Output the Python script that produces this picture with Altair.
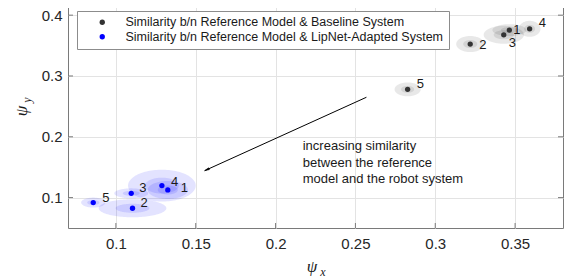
import altair as alt
import numpy as np
import pandas as pd

# ---------------- data ----------------
ids = ["1", "2", "3", "4", "5"]
series_names = [
    "Similarity b/n Reference Model & Baseline System",
    "Similarity b/n Reference Model & LipNet-Adapted System",
]
base_x = [0.3464, 0.3219, 0.3429, 0.3591, 0.2827]
base_y = [0.3754, 0.3525, 0.3677, 0.3775, 0.2780]
base_sx = [0.0053, 0.0044, 0.0063, 0.0034, 0.0041]
base_sy = [0.0049, 0.0066, 0.0074, 0.0066, 0.0057]

lip_x = [0.1325, 0.1104, 0.1096, 0.1288, 0.0858]
lip_y = [0.1126, 0.0825, 0.1070, 0.1197, 0.0918]
lip_sx = [0.0063, 0.0106, 0.0053, 0.0106, 0.0038]
lip_sy = [0.0074, 0.0074, 0.0041, 0.0131, 0.0041]

x_ticks = [0.1, 0.15, 0.2, 0.25, 0.3, 0.35]
y_ticks = [0.1, 0.2, 0.3, 0.4]
x_domain = [0.07, 0.38]
y_domain = [0.05, 0.42]

arrow_from = [0.2569, 0.2650]
arrow_to = [0.1556, 0.1443]
annotation_pos = [0.2170, 0.1850]
annotation_lines = [
    "increasing similarity",
    "between the reference",
    "model and the robot system",
]
sigma_levels = [1, 2]

W, H = 495, 225
TICK = 5
AXIS_GRAY = "#7a7a7a"

# ---------------- tables ----------------
pts = pd.DataFrame(
    {
        "series": [series_names[0]] * 5 + [series_names[1]] * 5,
        "sid": [0] * 5 + [1] * 5,
        "id": ids + ids,
        "x": base_x + lip_x,
        "y": base_y + lip_y,
        "sx": base_sx + lip_sx,
        "sy": base_sy + lip_sy,
    }
)

t = np.linspace(0, np.pi, 61)
rows = []
for _, r in pts.iterrows():
    for k in sigma_levels:
        for tt in t:
            rows.append(
                {
                    "sid": r["sid"],
                    "key": f"{r['sid']}-{r['id']}-{k}",
                    "ex": r["x"] + k * r["sx"] * np.cos(tt),
                    "ey": r["y"] + k * r["sy"] * np.sin(tt),
                    "ey2": r["y"] - k * r["sy"] * np.sin(tt),
                }
            )
ell = pd.DataFrame(rows)

xs = alt.Scale(domain=x_domain, nice=False, zero=False)
ys = alt.Scale(domain=y_domain, nice=False, zero=False)

xax = alt.Axis(values=x_ticks, format="~g", title=None, grid=True, ticks=False,
               domain=False, labelPadding=8)
yax = alt.Axis(values=y_ticks, format="~g", title=None, grid=True, ticks=False,
               domain=False, labelPadding=6)

# ellipses
ell_base = (
    alt.Chart(ell)
    .transform_filter("datum.sid == 0")
    .mark_area(color="#000000", opacity=0.09, interpolate="linear")
    .encode(
        x=alt.X("ex:Q", scale=xs, axis=xax),
        y=alt.Y("ey:Q", scale=ys, axis=yax),
        y2="ey2:Q",
        detail="key:N",
    )
)
ell_lip = (
    alt.Chart(ell)
    .transform_filter("datum.sid == 1")
    .mark_area(color="#0000ff", opacity=0.11, interpolate="linear")
    .encode(
        x=alt.X("ex:Q", scale=xs),
        y=alt.Y("ey:Q", scale=ys),
        y2="ey2:Q",
        detail="key:N",
    )
)

# inward box ticks
xt = pd.DataFrame({"v": x_ticks})
yt = pd.DataFrame({"v": y_ticks})
tick_layers = [
    alt.Chart(xt).mark_rule(color=AXIS_GRAY, strokeWidth=1).encode(
        x=alt.X("v:Q", scale=xs), y=alt.value(H - TICK), y2=alt.value(H)),
    alt.Chart(xt).mark_rule(color=AXIS_GRAY, strokeWidth=1).encode(
        x=alt.X("v:Q", scale=xs), y=alt.value(0), y2=alt.value(TICK)),
    alt.Chart(yt).mark_rule(color=AXIS_GRAY, strokeWidth=1).encode(
        y=alt.Y("v:Q", scale=ys), x=alt.value(0), x2=alt.value(TICK)),
    alt.Chart(yt).mark_rule(color=AXIS_GRAY, strokeWidth=1).encode(
        y=alt.Y("v:Q", scale=ys), x=alt.value(W - TICK), x2=alt.value(W)),
]

# arrow
arrow_df = pd.DataFrame(
    {"x": [arrow_from[0]], "y": [arrow_from[1]], "x2": [arrow_to[0]], "y2": [arrow_to[1]]}
)
arrow_line = alt.Chart(arrow_df).mark_rule(color="black", strokeWidth=1).encode(
    x=alt.X("x:Q", scale=xs), y=alt.Y("y:Q", scale=ys), x2="x2:Q", y2="y2:Q"
)
arrow_head = alt.Chart(arrow_df).mark_point(
    shape="M 0 0 L -0.4 1.9 L 0.4 1.9 Z", filled=True, fill="black", stroke="black",
    opacity=1, fillOpacity=1, size=25, angle=245.5, strokeWidth=0.5
).encode(x=alt.X("x2:Q", scale=xs), y=alt.Y("y2:Q", scale=ys))

# points
points = alt.Chart(pts).mark_circle(size=28, opacity=1).encode(
    x=alt.X("x:Q", scale=xs),
    y=alt.Y("y:Q", scale=ys),
    color=alt.Color(
        "series:N",
        scale=alt.Scale(domain=series_names, range=["#333333", "#0000ff"]),
        legend=alt.Legend(
            title=None, orient="none", legendX=9, legendY=8,
            fillColor="white", strokeColor="#8c8c8c", padding=5,
            labelFont="Liberation Sans", labelFontSize=12.5, labelColor="#1a1a1a",
            symbolType="circle", symbolSize=28, symbolOffset=14, labelOffset=17,
            rowPadding=1.5, labelLimit=500,
        ),
    ),
)

# labels with per-point offsets
offsets = {
    (0, "1"): (4, 0), (0, "2"): (9, 1), (0, "3"): (5, 8), (0, "4"): (9, -6), (0, "5"): (9, -5),
    (1, "1"): (13, -2), (1, "2"): (8, -5), (1, "3"): (8, -5), (1, "4"): (9, -4), (1, "5"): (9, -5),
}
groups = {}
for key, off in offsets.items():
    groups.setdefault(off, []).append(key)
label_layers = []
for (dx, dy), keys in groups.items():
    cond = " || ".join(f"(datum.sid == {s} && datum.id == '{i}')" for s, i in keys)
    label_layers.append(
        alt.Chart(pts).transform_filter(cond).mark_text(
            align="left", baseline="middle", dx=dx, dy=dy, fontSize=13,
            font="Liberation Sans", color="#1a1a1a"
        ).encode(x=alt.X("x:Q", scale=xs), y=alt.Y("y:Q", scale=ys), text="id:N")
    )

# annotation
ann_df = pd.DataFrame({"x": [annotation_pos[0]], "y": [annotation_pos[1]], "t": [annotation_lines]})
annotation = alt.Chart(ann_df).mark_text(
    align="left", baseline="middle", fontSize=13, lineHeight=16.7,
    font="Liberation Sans", color="#1a1a1a"
).encode(x=alt.X("x:Q", scale=xs), y=alt.Y("y:Q", scale=ys), text="t")

# axis titles (psi with subscripts)
one = pd.DataFrame({"a": [0]})
def txt(s, x, y, size, angle=0):
    kw = dict(font="Liberation Serif", fontStyle="italic", fontSize=size,
              color="#1a1a1a", align="center", baseline="middle")
    if angle:
        kw["angle"] = angle
    return alt.Chart(one).mark_text(**kw).encode(
        x=alt.value(x), y=alt.value(y), text=alt.value(s)
    )

titles = [
    txt("ψ", 244, 264, 17),
    txt("x", 255, 269, 12),
    txt("ψ", -46, 108, 17, 270),
    txt("y", -41, 97, 12, 270),
]

chart = alt.layer(
    ell_base, ell_lip, *tick_layers, arrow_line, arrow_head, points, *label_layers,
    annotation, *titles
).properties(
    width=W, height=H, autosize="none",
    padding={"left": 60, "top": -5, "right": 2, "bottom": 50},
).configure_view(stroke=AXIS_GRAY, strokeWidth=1).configure_axis(
    gridColor="#e3e3e3", gridWidth=1, labelFont="Liberation Sans", labelFontSize=15,
    labelColor="#262626"
)

chart.save("out.html", embed_options={"renderer": "svg", "actions": False})
